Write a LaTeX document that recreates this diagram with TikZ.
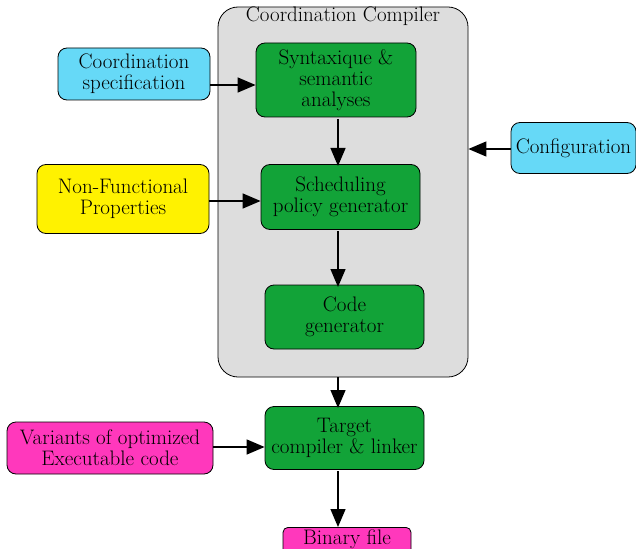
\documentclass[tikz,border=0pt]{standalone}
\usetikzlibrary{arrows.meta}

\definecolor{stagegreen}{HTML}{12A338}
\definecolor{inputcyan}{HTML}{66D9F7}
\definecolor{outpink}{HTML}{FF38BC}
\definecolor{compgray}{HTML}{DDDDDD}

\begin{document}
\begin{tikzpicture}[x=1pt,y=-1pt,
  box/.style={draw,rounded corners=9pt,line width=0.8pt,align=center,inner sep=0pt,
    font=\fontsize{21}{21}\selectfont},
  stage/.style={box,fill=stagegreen},
  flow/.style={-{Triangle[length=18pt,width=15pt]},line width=1.3pt}]

% Page frame
\useasboundingbox (0,0) rectangle (636,548);
\clip (0,0) rectangle (636,548);

% Compiler frame
\node[box,fill=compgray,rounded corners=20pt,minimum width=250pt,minimum height=370pt]
  (comp) at (343,192) {};
\node[font=\fontsize{21}{21}\selectfont] (title) at (343,16) {Coordination Compiler};

% Stages
\node[stage,minimum width=160pt,minimum height=74pt] (syn) at (336,80)
  {Syntaxique \&\\semantic\\analyses};
\node[stage,minimum width=159pt,minimum height=65pt] (sched) at (340.5,197)
  {Scheduling\\policy generator};
\node[stage,minimum width=159pt,minimum height=64pt] (code) at (344.5,317)
  {Code\\generator};
\node[stage,minimum width=159pt,minimum height=63pt] (target) at (344.5,438)
  {Target\\compiler \& linker};

% Inputs
\node[box,fill=inputcyan,minimum width=152pt,minimum height=52pt] (spec) at (134,74)
  {Coordination\\specification};
\node[box,fill=yellow,minimum width=172pt,minimum height=69pt] (nfp) at (123,199)
  {Non-Functional\\Properties};
\node[box,fill=inputcyan,minimum width=125pt,minimum height=51pt] (conf) at (573.5,148)
  {Configuration};
\node[box,fill=outpink,minimum width=206pt,minimum height=52pt] (var) at (110,448)
  {Variants of optimized\\Executable code};

% Output
\node[box,fill=outpink,rounded corners=5pt,minimum width=128pt,inner ysep=0pt,
  text height=17pt,text depth=20pt,anchor=north] (bin) at (347,527) {Binary file};

% Connectors
\draw[flow] (spec.east |- 0,85) -- (syn.west |- 0,85);
\draw[flow] (338,119) -- (338,166);
\draw[flow] (338,231) -- (338,287);
\draw[flow] (338,377) -- (338,408);
\draw[flow] (338,471) -- (338,527);
\draw[flow] (nfp.east |- 0,201) -- (sched.west |- 0,201);
\draw[flow] (conf.west |- 0,149) -- (comp.east |- 0,149);
\draw[flow] (var.east |- 0,447) -- (target.west |- 0,447);

\end{tikzpicture}
\end{document}
